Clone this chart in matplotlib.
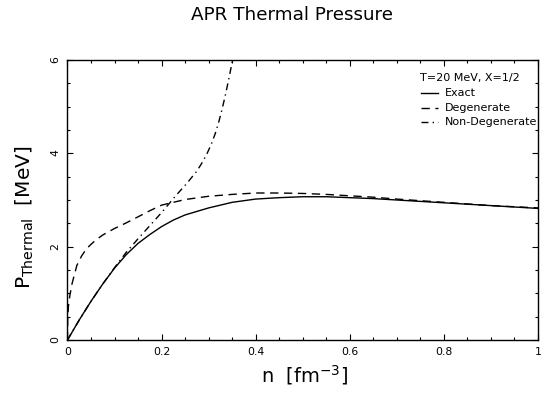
import matplotlib
matplotlib.use("Agg")
import matplotlib.pyplot as plt

# Data
n_exact = [0, 0.025, 0.05, 0.075, 0.1, 0.125, 0.15, 0.175, 0.2, 0.225, 0.25, 0.3,
           0.35, 0.4, 0.45, 0.5, 0.55, 0.6, 0.65, 0.7, 0.8, 0.9, 1.0]
p_exact = [0, 0.43, 0.83, 1.20, 1.54, 1.83, 2.07, 2.26, 2.43, 2.57, 2.68, 2.83,
           2.95, 3.02, 3.05, 3.07, 3.07, 3.05, 3.03, 3.00, 2.94, 2.88, 2.82]

n_deg = [0, 0.0005, 0.002, 0.005, 0.01, 0.02, 0.03, 0.04, 0.05, 0.06, 0.075, 0.1,
         0.125, 0.15, 0.175, 0.2, 0.25, 0.3, 0.35, 0.4, 0.45, 0.5, 0.55, 0.6,
         0.65, 0.7, 0.8, 0.9, 1.0]
p_deg = [0, 0.45, 0.72, 0.95, 1.22, 1.6, 1.8, 1.95, 2.05, 2.14, 2.25, 2.39,
         2.51, 2.64, 2.77, 2.89, 3.01, 3.08, 3.12, 3.15, 3.15, 3.14, 3.12, 3.09,
         3.06, 3.02, 2.95, 2.88, 2.83]

n_nondeg = [0, 0.025, 0.05, 0.075, 0.1, 0.125, 0.15, 0.175, 0.2, 0.215, 0.23,
            0.254, 0.275, 0.285, 0.296, 0.305, 0.314, 0.321, 0.328, 0.335,
            0.342, 0.349, 0.353]
p_nondeg = [0, 0.43, 0.83, 1.20, 1.55, 1.88, 2.17, 2.45, 2.73, 2.91, 3.09,
            3.36, 3.62, 3.78, 3.98, 4.18, 4.42, 4.65, 4.92, 5.22,
            5.55, 5.9, 6.12]

x_ticks = [0, 0.2, 0.4, 0.6, 0.8, 1.0]
x_labels = ['0', '0.2', '0.4', '0.6', '0.8', '1']
y_ticks = [0, 2, 4, 6]
y_labels = ['0', '2', '4', '6']

plt.rcParams['font.family'] = 'DejaVu Sans'
plt.rcParams['mathtext.fontset'] = 'dejavusans'

fig = plt.figure(figsize=(5.42, 4.07), dpi=100)
ax = fig.add_axes([0.1245, 0.1646, 0.868, 0.688])

ax.plot(n_exact, p_exact, color='black', lw=1.0)
ax.plot(n_deg, p_deg, color='black', lw=1.0, dashes=(6, 4))
ax.plot(n_nondeg, p_nondeg, color='black', lw=1.0, dashes=(5, 3, 1, 3))

ax.set_xlim(0, 1)
ax.set_ylim(0, 6)
ax.set_xticks(x_ticks)
ax.set_xticklabels(x_labels)
ax.set_yticks(y_ticks)
ax.set_yticklabels(y_labels)
ax.set_xticks([i * 0.05 for i in range(21)], minor=True)
ax.set_yticks([i * 0.5 for i in range(13)], minor=True)
ax.tick_params(which='both', direction='in', top=True, right=True, width=0.8)
ax.tick_params(which='major', length=4.5, labelsize=7.8, pad=5)
ax.tick_params(which='minor', length=2.2)
ax.tick_params(axis='y', labelrotation=90)
for s in ax.spines.values():
    s.set_linewidth(1.0)

# legend block
ax.text(0.749, 0.935, 'T=20 MeV, X=1/2', transform=ax.transAxes, fontsize=8, va='center')
leg_rows = [('Exact', 0.881, None), ('Degenerate', 0.830, (6, 4)),
            ('Non-Degenerate', 0.780, (5, 3, 1, 3))]
for name, yy, dsh in leg_rows:
    if dsh is None:
        ax.plot([0.751, 0.788], [yy, yy], transform=ax.transAxes, color='black', lw=1.0)
    else:
        ax.plot([0.751, 0.788], [yy, yy], transform=ax.transAxes, color='black', lw=1.0, dashes=dsh)
    ax.text(0.802, yy, name, transform=ax.transAxes, fontsize=8, va='center')

fig.text(0.538, 0.962, 'APR Thermal Pressure', ha='center', va='center', fontsize=13.2)
fig.text(0.561, 0.079, r'n  [fm$^{-3}$]', ha='center', va='center', fontsize=14)
fig.text(0.045, 0.465, r'P$_{\mathrm{Thermal}}$  [MeV]', ha='center', va='center',
         rotation=90, fontsize=14.5)

fig.savefig('out.png', dpi=100)
